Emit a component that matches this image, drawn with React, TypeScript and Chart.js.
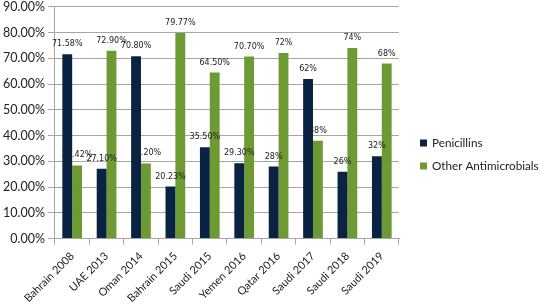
import React, { useEffect, useRef } from "react";
import { Chart, registerables } from "chart.js";

Chart.register(...registerables);

const categories = [
  "Bahrain 2008", "UAE 2013", "Oman 2014", "Bahrain 2015", "Saudi 2015",
  "Yemen 2016", "Qatar 2016", "Saudi 2017", "Saudi 2018", "Saudi 2019",
];
const penicillins = [71.58, 27.1, 70.8, 20.23, 35.5, 29.3, 28, 62, 26, 32];
const otherAntimicrobials = [28.42, 72.9, 29.2, 79.77, 64.5, 70.7, 72, 38, 74, 68];
const penicillinLabels = ["71.58%", "27.10%", "70.80%", "20.23%", "35.50%", "29.30%", "28%", "62%", "26%", "32%"];
const otherLabels = ["28.42%", "72.90%", "29.20%", "79.77%", "64.50%", "70.70%", "72%", "38%", "74%", "68%"];
const seriesNames = ["Penicillins", "Other Antimicrobials"];
const yMax = 90;
const yStep = 10;

const NAVY = "#0b2342";
const GREEN = "#6e9a34";

const labelPlugin = {
  id: "barLabels",
  afterDatasetsDraw(chart: any) {
    const ctx = chart.ctx;
    const all = [penicillinLabels, otherLabels];
    ctx.save();
    ctx.font = "8px 'DejaVu Sans'";
    ctx.fillStyle = "#222";
    ctx.textAlign = "center";
    ctx.textBaseline = "middle";
    chart.data.datasets.forEach((ds: any, di: number) => {
      const meta = chart.getDatasetMeta(di);
      meta.data.forEach((bar: any, i: number) => {
        ctx.fillText(all[di][i], bar.x, bar.y - 10);
      });
    });
    ctx.restore();
  },
};

const legendPlugin = {
  id: "customLegend",
  afterDraw(chart: any) {
    const ctx = chart.ctx;
    const x = chart.chartArea.right + 21;
    const ys = [143, 166];
    const colors = [NAVY, GREEN];
    ctx.save();
    ctx.font = "11.7px Lato";
    ctx.textBaseline = "middle";
    ctx.textAlign = "left";
    seriesNames.forEach((name, i) => {
      ctx.fillStyle = colors[i];
      ctx.fillRect(x, ys[i] - 3.5, 7, 7);
      ctx.fillStyle = "#222";
      ctx.fillText(name, x + 12, ys[i]);
    });
    ctx.restore();
  },
};

export default function App() {
  const ref = useRef<HTMLCanvasElement>(null);
  useEffect(() => {
    if (!ref.current) return;
    const chart = new Chart(ref.current, {
      type: "bar",
      data: {
        labels: categories,
        datasets: [
          { label: seriesNames[0], data: penicillins, backgroundColor: NAVY },
          { label: seriesNames[1], data: otherAntimicrobials, backgroundColor: GREEN },
        ],
      },
      options: {
        animation: false,
        responsive: false,
        maintainAspectRatio: false,
        layout: { padding: { top: 1, right: 141, left: 0, bottom: 0 } },
        plugins: { legend: { display: false }, tooltip: { enabled: false } },
        datasets: { bar: { categoryPercentage: 0.573, barPercentage: 1 } },
        scales: {
          x: {
            grid: { drawOnChartArea: false, drawTicks: true, tickLength: 6, color: "#a6a6a6", offset: true },
            border: { color: "#a6a6a6" },
            ticks: {
              color: "#222",
              font: { family: "Lato", size: 11 },
              maxRotation: 45,
              minRotation: 45,
              padding: 5,
              autoSkip: false,
            },
          },
          y: {
            min: 0,
            max: yMax,
            grid: { color: "#a6a6a6", tickLength: 7 },
            border: { color: "#a6a6a6" },
            ticks: {
              stepSize: yStep,
              color: "#222",
              font: { family: "Lato", size: 12.5, lineHeight: 0.6 },
              padding: 3,
              callback: (v: any) => Number(v).toFixed(2) + "%",
            },
          },
        },
      },
      plugins: [labelPlugin, legendPlugin],
    });
    return () => chart.destroy();
  }, []);
  return (
    <div style={{ position: "fixed", left: 0, top: 0, width: 540, height: 310, background: "#fff" }}>
      <canvas ref={ref} width={540} height={310} style={{ width: 540, height: 310, display: "block" }} />
    </div>
  );
}
